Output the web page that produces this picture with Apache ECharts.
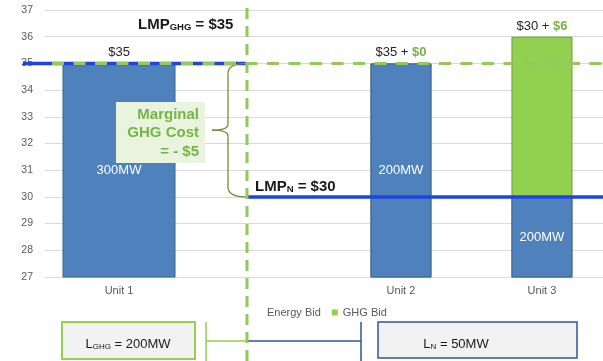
<!DOCTYPE html>
<html><head><meta charset="utf-8">
<script src="https://cdn.jsdelivr.net/npm/echarts@6/dist/echarts.min.js"></script>
<style>html,body{margin:0;padding:0;background:#fff}#c{width:603px;height:361px}</style>
</head><body><div id="c"></div>
<script>
// ---- data ----
const categories = ['Unit 1', '', 'Unit 2', 'Unit 3'];
const energyBid = [35, null, 35, 30];
const ghgBid = [null, null, 0, 6];
const capacity = ['300MW', '', '200MW', '200MW'];
const yMin = 27, yMax = 37, yStep = 1;
const lmpGHG = 35;
const lmpN = 30;
const marginalText = ['Marginal', 'GHG Cost', '= - $5'];
const loadGHG = '200MW';
const loadN = '50MW';
const legendNames = ['Energy Bid', 'GHG Bid'];

// ---- styles ----
const FONT = 'Liberation Sans, Arial, sans-serif';
const BLUE_BAR = '#4f81bd', BLUE_BORDER = '#3a6291';
const GREEN_BAR = '#92d050', GREEN_BORDER = '#6f9b3e';
const GREEN_TXT = '#77b347';
const LMP_BLUE = '#1f43e0';
const DASH_GREEN = '#95c85a';

// x positions are the category indexes; range padded so bars sit like the original layout
const xRange = {min: -0.525, max: 3.433};
const wideIdx = [0], narrowIdx = [2, 3];
const pts = (vals, idx) => idx.filter(i => vals[i] != null).map(i => [i, vals[i]]);
const totals = energyBid.map((v, i) => ghgBid[i] == null ? null : v + ghgBid[i]);

const chart = echarts.init(document.getElementById('c'), null, {renderer: 'canvas'});
const xBase = {type: 'value', min: xRange.min, max: xRange.max};
const option = {
  animation: false,
  textStyle: {fontFamily: FONT},
  grid: {left: 45, right: 0, top: 10, bottom: 84},
  legend: {
    top: 302, left: 251, icon: 'rect', itemWidth: 6, itemHeight: 6, itemGap: 11,
    textStyle: {fontSize: 11, color: '#595959', fontFamily: FONT},
    data: [
      {name: legendNames[0], itemStyle: {color: 'rgba(0,0,0,0)', borderWidth: 0}},
      {name: legendNames[1], itemStyle: {borderWidth: 0}}
    ]
  },
  xAxis: [
    Object.assign({}, xBase, {
      splitLine: {show: false}, axisTick: {show: false},
      axisLine: {onZero: false, lineStyle: {color: '#d9d9d9'}},
      axisLabel: {color: '#595959', fontSize: 11, margin: 8, fontFamily: FONT,
                  customValues: [0, 2, 3], formatter: v => categories[Math.round(v)]}}),
    Object.assign({}, xBase, {show: false})
  ],
  yAxis: {
    type: 'value', min: yMin, max: yMax, interval: yStep,
    axisLine: {show: false}, axisTick: {show: false},
    axisLabel: {color: '#595959', fontSize: 10.5, margin: 12, fontFamily: FONT},
    splitLine: {lineStyle: {color: '#d9d9d9'}}
  },
  series: [
    {name: legendNames[0], type: 'bar', xAxisIndex: 1, barWidth: 113, barGap: '-100%',
     data: pts(energyBid, wideIdx),
     itemStyle: {color: BLUE_BAR, borderColor: BLUE_BORDER, borderWidth: 1},
     label: {show: true, position: 'inside', color: '#fff', fontSize: 13, fontFamily: FONT,
             formatter: p => capacity[p.value[0]]}},
    {name: 'u1top', type: 'bar', xAxisIndex: 1, barWidth: 113, barGap: '-100%',
     data: pts(energyBid, wideIdx),
     itemStyle: {color: 'rgba(0,0,0,0)'},
     label: {show: true, position: 'top', distance: 4, color: '#262626', fontSize: 13, fontFamily: FONT,
             formatter: p => '$' + energyBid[p.value[0]]}},
    {name: legendNames[1], type: 'bar', xAxisIndex: 0, barWidth: 61, barGap: '-100%',
     data: pts(totals, narrowIdx),
     itemStyle: {color: GREEN_BAR, borderColor: GREEN_BORDER, borderWidth: 1},
     label: {show: true, position: 'top', distance: 4, fontSize: 13, fontFamily: FONT,
             formatter: p => '{a|$' + energyBid[p.value[0]] + ' + }{b|$' + ghgBid[p.value[0]] + '}',
             rich: {a: {color: '#262626', fontSize: 13, fontFamily: FONT},
                    b: {color: GREEN_TXT, fontSize: 13, fontWeight: 'bold', fontFamily: FONT}}}},
    {name: legendNames[0], type: 'bar', xAxisIndex: 0, barWidth: 61, barGap: '-100%',
     data: pts(energyBid, narrowIdx),
     itemStyle: {color: BLUE_BAR, borderColor: BLUE_BORDER, borderWidth: 1},
     label: {show: true, position: 'inside', color: '#fff', fontSize: 13, fontFamily: FONT,
             formatter: p => capacity[p.value[0]]}}
  ]
};
chart.setOption(option);

// ---- annotations positioned from the axes ----
const y35 = chart.convertToPixel({yAxisIndex: 0}, lmpGHG);
const y30 = chart.convertToPixel({yAxisIndex: 0}, lmpN);
const yMid = (y35 + y30) / 2;
const xDiv = 247, xEnd = 603;
const bS = 228, bT = 212;
const boxY = 322, boxH = 37, connY = 341;
const BRACE = {stroke: '#6b8e3a', lineWidth: 1.3, fill: null};

const subRich = (big, bold, sub) => ({
  m: {fontSize: big, fontWeight: bold ? 'bold' : 'normal', fill: '#1a1a1a', fontFamily: FONT, lineHeight: 20, verticalAlign: 'bottom'},
  s: {fontSize: sub, fontWeight: bold ? 'bold' : 'normal', fill: '#1a1a1a', fontFamily: FONT, lineHeight: 9, verticalAlign: 'bottom'}
});

chart.setOption({graphic: [
  {type: 'line', z: 100, shape: {x1: 23, y1: y35, x2: xDiv, y2: y35}, style: {stroke: LMP_BLUE, lineWidth: 3.5}},
  {type: 'line', z: 101, shape: {x1: 52, y1: y35, x2: xEnd, y2: y35}, style: {stroke: DASH_GREEN, lineWidth: 3, lineDash: [12, 9.5]}},
  {type: 'line', z: 100, shape: {x1: xDiv, y1: y30, x2: xEnd, y2: y30}, style: {stroke: LMP_BLUE, lineWidth: 3.5}},
  {type: 'line', z: 102, shape: {x1: xDiv, y1: 8, x2: xDiv, y2: 361}, style: {stroke: DASH_GREEN, lineWidth: 3, lineDash: [11, 7]}},
  // brace
  {type: 'bezierCurve', z: 100, shape: {x1: xDiv, y1: y35, cpx1: bS, cpy1: y35, x2: bS, y2: y35 + 10}, style: BRACE},
  {type: 'line', z: 100, shape: {x1: bS, y1: y35 + 10, x2: bS, y2: yMid - 6}, style: BRACE},
  {type: 'bezierCurve', z: 100, shape: {x1: bS, y1: yMid - 6, cpx1: bS, cpy1: yMid, x2: bT, y2: yMid}, style: BRACE},
  {type: 'bezierCurve', z: 100, shape: {x1: bT, y1: yMid, cpx1: bS, cpy1: yMid, x2: bS, y2: yMid + 6}, style: BRACE},
  {type: 'line', z: 100, shape: {x1: bS, y1: yMid + 6, x2: bS, y2: y30 - 10}, style: BRACE},
  {type: 'bezierCurve', z: 100, shape: {x1: bS, y1: y30 - 10, cpx1: bS, cpy1: y30, x2: xDiv, y2: y30}, style: BRACE},
  // marginal cost box
  {type: 'rect', z: 100, shape: {x: 116, y: 102, width: 89, height: 61}, style: {fill: '#e9f4de'}},
  {type: 'text', z: 101, x: 199, y: 133, style: {text: marginalText.join('\n'), align: 'right', verticalAlign: 'middle',
    lineHeight: 18.5, fontSize: 15, fontWeight: 'bold', fill: GREEN_TXT, fontFamily: FONT}},
  {type: 'text', z: 101, x: 138, y: 22, style: {text: '{m|LMP}{s|GHG}{m| = $' + lmpGHG + '}', verticalAlign: 'middle', rich: subRich(15, true, 9.5)}},
  {type: 'text', z: 101, x: 255, y: 184, style: {text: '{m|LMP}{s|N}{m| = $' + lmpN + '}', verticalAlign: 'middle', rich: subRich(15, true, 9.5)}},
  // load boxes
  {type: 'rect', z: 100, shape: {x: 62, y: boxY, width: 133, height: boxH}, style: {fill: '#f2f2f2', stroke: GREEN_BAR, lineWidth: 2}},
  {type: 'text', z: 101, x: 128, y: connY, style: {text: '{m|L}{s|GHG}{m| = ' + loadGHG + '}', align: 'center', verticalAlign: 'middle', rich: subRich(13, false, 8)}},
  {type: 'rect', z: 100, shape: {x: 378, y: boxY, width: 199, height: boxH - 1}, style: {fill: '#f2f2f2', stroke: '#2f5597', lineWidth: 1.5}},
  {type: 'text', z: 101, x: 456, y: connY, style: {text: '{m|L}{s|N}{m| = ' + loadN + '}', align: 'center', verticalAlign: 'middle', rich: subRich(13, false, 8)}},
  {type: 'line', z: 100, shape: {x1: 206, y1: boxY, x2: 206, y2: 361}, style: {stroke: GREEN_BAR, lineWidth: 1.5}},
  {type: 'line', z: 100, shape: {x1: 206, y1: connY, x2: xDiv, y2: connY}, style: {stroke: GREEN_BAR, lineWidth: 1.5}},
  {type: 'line', z: 100, shape: {x1: xDiv, y1: connY, x2: 361, y2: connY}, style: {stroke: '#2f5597', lineWidth: 1.5}},
  {type: 'line', z: 100, shape: {x1: 361, y1: boxY, x2: 361, y2: 361}, style: {stroke: '#2f5597', lineWidth: 1.5}}
]});
</script></body></html>
